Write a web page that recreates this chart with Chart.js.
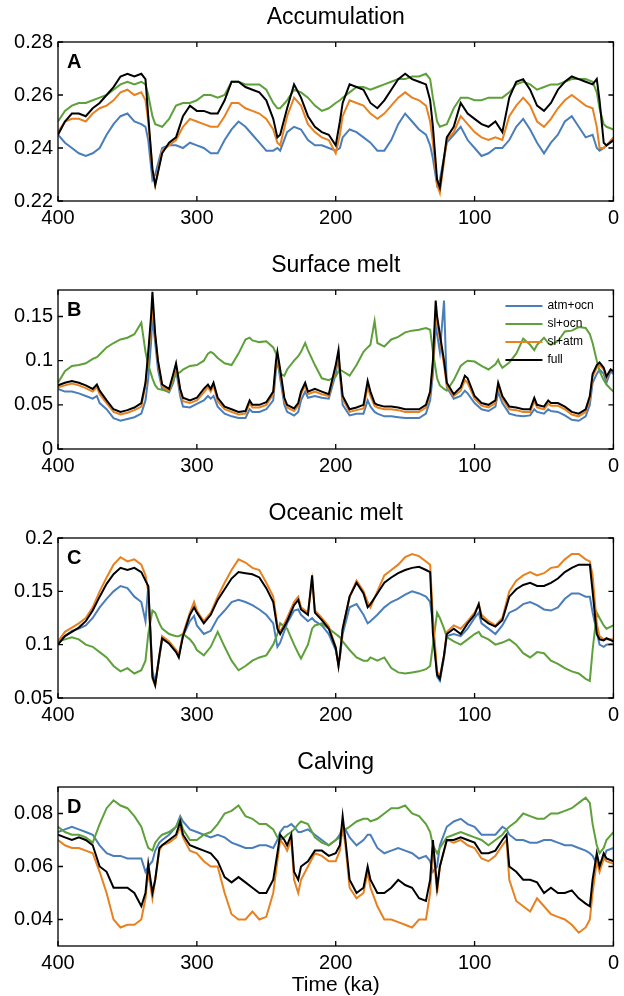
<!DOCTYPE html>
<html><head><meta charset="utf-8">
<script src="https://cdn.jsdelivr.net/npm/chart.js@4.4.0/dist/chart.umd.min.js"></script>
<style>
html,body{margin:0;padding:0;background:#fff;}
#wrap{position:relative;width:624px;height:996px;overflow:hidden;background:#fff;}
canvas{position:absolute;left:0;}
</style></head><body><div id="wrap">
<canvas id="cA" width="624" height="245" style="top:0px"></canvas>
<canvas id="cB" width="624" height="248" style="top:245px"></canvas>
<canvas id="cC" width="624" height="250" style="top:493px"></canvas>
<canvas id="cD" width="624" height="253" style="top:743px"></canvas>
</div>
<script>
// ---------- data (time in ka) ----------
const seriesLabels = ["atm+ocn", "sl+ocn", "sl+atm", "full"];
const xTicks = [400, 300, 200, 100, 0];

// Panel A: Accumulation
const kaA = [400,395,390,385,380,375,370,365,360,355,350,345,340,337,335,332,330,325,320,315,310,305,300,295,290,285,280,275,270,265,260,255,250,245,242,240,235,230,225,220,215,210,205,200,197,195,190,185,180,175,170,165,160,155,150,145,140,135,132,130,127,125,120,115,110,105,100,95,90,85,80,75,70,65,60,55,50,45,40,35,30,25,20,15,12,10,7,5,0];
const accBlue = [.245,.242,.240,.238,.237,.238,.240,.245,.249,.252, .253,.250,.249,.248,.243,.228,.230,.240,.241,.241, .240,.242,.241,.240,.238,.238,.243,.247,.250,.248, .245,.242,.239,.239,.240,.239,.246,.248,.247,.243, .241,.241,.240,.239,.240,.244,.247,.246,.244,.242, .239,.239,.243,.249,.253,.250,.247,.245,.241,.236, .226,.228,.242,.245,.248,.243,.240,.237,.238,.240, .240,.243,.248,.251,.247,.242,.238,.242,.245,.250, .252,.248,.244,.245,.240,.239,.240,.241,.243];
const accGreen = [.250,.254,.256,.257,.257,.258,.259,.260,.262,.264, .265,.264,.265,.264,.260,.252,.249,.248,.251,.256, .257,.257,.258,.260,.260,.259,.260,.265,.265,.264, .264,.264,.262,.257,.255,.255,.258,.262,.261,.259, .256,.254,.255,.257,.258,.259,.261,.263,.263,.262, .263,.264,.265,.266,.266,.267,.267,.268,.266,.259, .250,.248,.249,.255,.259,.259,.258,.258,.259,.259, .259,.261,.264,.265,.264,.262,.263,.264,.264,.265, .266,.266,.266,.265,.261,.255,.249,.248,.247];
const accOrange = [.246,.250,.251,.251,.250,.253,.255,.256,.258,.261, .262,.260,.261,.258,.250,.232,.226,.239,.241,.243, .248,.251,.250,.249,.248,.248,.252,.257,.257,.255, .254,.253,.251,.247,.242,.241,.252,.259,.256,.249, .246,.244,.243,.238,.245,.252,.258,.257,.256,.253, .251,.253,.256,.259,.261,.259,.258,.256,.250,.242, .226,.223,.243,.246,.252,.249,.246,.244,.243,.244, .243,.252,.256,.259,.256,.250,.248,.251,.255,.258, .260,.258,.256,.255,.248,.240,.240,.241,.244];
const accBlack = [.245,.250,.253,.253,.252,.255,.257,.260,.263,.267, .268,.267,.268,.266,.252,.232,.226,.238,.242,.244, .252,.256,.254,.254,.253,.253,.258,.265,.265,.263, .262,.261,.258,.251,.244,.245,.255,.264,.259,.252, .248,.246,.245,.241,.250,.257,.264,.263,.262,.257, .255,.258,.262,.266,.268,.266,.265,.264,.258,.248, .228,.225,.244,.248,.257,.253,.251,.249,.248,.250, .246,.259,.265,.266,.262,.256,.254,.257,.262,.265, .267,.266,.265,.264,.266,.258,.242,.241,.243];
const accTicks = [0.22, 0.24, 0.26, 0.28];

// Panel B: Surface melt
const kaB = [400,395,390,385,380,375,372,370,365,360, 355,350,345,340,337,335,333,332,330,328, 325,320,317,315,312,310,305,300,295,292, 290,288,285,280,275,270,265,262,260,255, 250,245,243,242,240,237,235,230,227,225, 222,220,215,210,205,200,198,197,195,190, 185,180,177,175,172,170,165,160,155,150, 145,140,135,132,130,128,127,125,122,120, 115,110,107,105,100,95,90,85,83,82, 80,75,70,65,60,57,55,50,47,45, 40,35,30,25,20,17,15,12,10,7, 5,2,0];
const smBlue = [.068,.065,.065,.063,.060,.057,.060,.052,.045,.035, .032,.034,.036,.040,.055,.080,.120,.150,.120,.090, .068,.064,.075,.090,.060,.048,.047,.051,.055,.060, .057,.060,.048,.040,.037,.035,.035,.045,.042,.042, .045,.055,.090,.100,.080,.050,.042,.038,.042,.055, .065,.058,.060,.058,.057,.085,.105,.085,.050,.038, .040,.040,.055,.048,.042,.040,.037,.037,.036,.035, .035,.035,.040,.055,.085,.140,.130,.110,.168,.070, .057,.060,.066,.063,.052,.045,.043,.048,.065,.060, .052,.040,.038,.037,.038,.045,.042,.040,.045,.043, .042,.038,.033,.032,.037,.050,.075,.085,.090,.085, .075,.088,.085];
const smGreen = [.075,.088,.094,.095,.097,.102,.104,.107,.115,.120, .124,.126,.130,.143,.110,.095,.085,.080,.072,.068, .067,.065,.078,.085,.087,.090,.094,.095,.100,.108, .110,.108,.103,.097,.095,.108,.124,.126,.123,.121, .122,.115,.108,.100,.085,.083,.090,.100,.105,.110, .120,.112,.095,.080,.078,.082,.088,.090,.088,.083, .095,.110,.115,.118,.145,.120,.116,.124,.127,.132, .134,.135,.137,.135,.110,.090,.080,.072,.068,.066, .078,.094,.098,.100,.099,.094,.090,.096,.101,.097, .092,.098,.108,.125,.118,.112,.118,.126,.120,.118, .122,.133,.134,.138,.137,.130,.120,.100,.088,.078, .073,.068,.065];
const smOrange = [.070,.072,.074,.072,.069,.065,.070,.062,.052,.042, .039,.041,.044,.048,.072,.105,.140,.160,.128,.098, .071,.066,.082,.095,.066,.054,.052,.055,.064,.070, .065,.072,.054,.045,.042,.039,.040,.052,.047,.047, .050,.062,.097,.106,.087,.055,.047,.043,.049,.062, .072,.062,.065,.062,.060,.092,.108,.088,.057,.042, .044,.046,.070,.060,.049,.047,.045,.045,.044,.042, .042,.042,.047,.062,.095,.150,.142,.125,.095,.072, .060,.066,.078,.075,.057,.049,.047,.052,.072,.066, .057,.045,.044,.042,.042,.054,.047,.045,.051,.049, .049,.045,.039,.037,.042,.056,.082,.092,.095,.090, .080,.090,.088];
const smBlack = [.072,.075,.077,.075,.072,.068,.073,.066,.055,.045, .042,.044,.047,.052,.075,.110,.150,.178,.130,.100, .073,.068,.085,.097,.068,.058,.055,.058,.068,.073, .068,.075,.058,.048,.045,.042,.043,.055,.050,.050, .053,.065,.100,.110,.090,.058,.050,.046,.052,.065, .075,.065,.068,.065,.062,.095,.112,.090,.060,.045, .047,.050,.077,.065,.052,.050,.048,.048,.047,.045, .045,.045,.050,.065,.100,.168,.150,.130,.100,.075, .062,.070,.083,.080,.060,.052,.050,.055,.075,.070, .060,.048,.047,.045,.045,.058,.050,.048,.055,.052, .052,.048,.042,.040,.045,.060,.085,.095,.098,.092, .082,.090,.088];
const smTicks = [0, 0.05, 0.1, 0.15];

// Panel C: Oceanic melt
const kaC = [400,395,390,385,380,375,370,365,360,355, 350,345,340,337,335,332,330,327,325,320, 315,313,310,305,302,300,295,290,285,280, 275,270,265,260,255,250,245,242,240,235, 230,227,225,220,217,215,210,205,200,198, 197,195,190,185,180,177,175,170,165,160, 155,150,145,140,135,132,130,127,125,122, 120,115,110,105,100,97,95,90,85,80, 75,70,65,60,55,50,45,40,35,30, 25,20,17,15,12,10,7,5,0];
const omBlue = [.103,.108,.113,.115,.118,.125,.135,.143,.150,.155, .153,.145,.140,.122,.155,.075,.065,.088,.105,.102, .095,.090,.108,.122,.127,.118,.110,.113,.125,.132, .140,.142,.140,.137,.133,.128,.120,.098,.102,.120, .132,.133,.128,.122,.125,.122,.118,.110,.095,.082, .088,.110,.135,.138,.128,.120,.122,.128,.135,.140, .143,.147,.150,.148,.145,.140,.120,.070,.066,.088, .108,.110,.108,.115,.125,.130,.120,.115,.110,.118, .130,.133,.138,.140,.137,.133,.132,.135,.143,.148, .148,.145,.145,.130,.112,.100,.098,.100,.101];
const omGreen = [.103,.105,.107,.105,.100,.098,.093,.088,.080,.075, .078,.073,.076,.085,.110,.132,.130,.120,.115,.110, .108,.108,.110,.105,.100,.095,.090,.098,.112,.098, .085,.076,.080,.085,.088,.090,.100,.110,.120,.115, .100,.092,.087,.100,.115,.118,.120,.115,.110,.108, .107,.103,.095,.088,.085,.085,.088,.085,.088,.078, .074,.073,.074,.075,.077,.080,.100,.130,.125,.115, .107,.103,.100,.105,.110,.112,.108,.105,.100,.102, .105,.100,.092,.088,.093,.092,.085,.082,.078,.075, .073,.068,.066,.095,.130,.125,.118,.115,.118];
const omOrange = [.103,.112,.116,.120,.125,.135,.150,.163,.175,.182, .178,.180,.175,.165,.150,.068,.062,.090,.108,.103, .095,.090,.110,.130,.140,.132,.122,.130,.145,.158, .170,.180,.177,.172,.170,.158,.145,.118,.112,.125, .140,.145,.135,.130,.160,.132,.125,.117,.098,.080, .090,.115,.145,.160,.150,.140,.135,.150,.165,.170, .175,.182,.185,.183,.178,.175,.125,.075,.070,.090, .112,.118,.115,.122,.130,.138,.128,.122,.118,.125, .150,.160,.165,.168,.165,.167,.172,.173,.180,.185, .185,.180,.178,.165,.120,.108,.105,.105,.105];
const omBlack = [.100,.108,.112,.116,.122,.132,.145,.157,.166,.172, .170,.172,.168,.160,.155,.070,.062,.090,.106,.101, .093,.088,.108,.128,.135,.130,.120,.128,.142,.152, .162,.168,.167,.166,.163,.153,.140,.115,.110,.122, .137,.142,.133,.128,.165,.130,.123,.115,.097,.080, .090,.115,.145,.158,.148,.135,.138,.148,.158,.163, .167,.170,.172,.173,.170,.168,.110,.072,.068,.090, .110,.115,.110,.120,.128,.138,.125,.120,.117,.123, .145,.152,.156,.158,.155,.155,.158,.162,.168,.172, .175,.175,.175,.150,.110,.105,.104,.106,.103];
const omTicks = [0.05, 0.1, 0.15, 0.2];

// Panel D: Calving
const kaD = [400,395,390,385,380,375,370,365,360,355, 350,345,340,337,335,332,330,327,325,320, 315,312,310,305,300,295,290,285,280,275, 270,265,260,255,250,245,242,240,237,235, 232,230,227,225,220,215,210,205,200,197, 195,193,190,185,180,177,175,170,165,160, 155,150,145,140,135,132,130,127,125,120, 115,110,105,100,95,90,85,80,77,75, 70,65,60,55,50,45,40,35,30,25, 20,17,15,12,10,7,5,0];
const cvBlue = [.073,.074,.075,.074,.073,.072,.068,.065,.064,.064, .063,.063,.063,.058,.060,.062,.066,.069,.070,.072, .075,.079,.077,.074,.073,.072,.071,.072,.071,.069, .068,.067,.067,.068,.068,.067,.070,.073,.075,.075, .076,.075,.073,.073,.074,.072,.070,.068,.070,.072, .075,.074,.071,.068,.070,.072,.072,.067,.065,.066, .067,.066,.065,.063,.064,.062,.058,.060,.068,.075, .077,.078,.076,.075,.072,.072,.072,.075,.074,.072, .070,.070,.069,.069,.070,.070,.069,.068,.068,.067, .066,.065,.064,.061,.060,.063,.066,.067];
const cvGreen = [.075,.073,.072,.072,.071,.069,.076,.082,.085,.083, .082,.079,.075,.070,.067,.066,.069,.071,.072,.073, .075,.078,.074,.070,.070,.072,.073,.076,.080,.081, .083,.079,.078,.076,.076,.074,.071,.070,.071,.072, .073,.074,.076,.077,.076,.071,.069,.068,.070,.071, .072,.074,.075,.077,.078,.078,.077,.078,.080,.082, .082,.083,.080,.079,.076,.073,.068,.065,.067,.071, .072,.073,.072,.071,.070,.068,.070,.072,.074,.075, .077,.080,.079,.078,.078,.080,.080,.081,.082,.084, .086,.084,.076,.068,.065,.067,.070,.073];
const cvOrange = [.070,.068,.067,.067,.066,.065,.058,.050,.040,.037, .038,.038,.040,.048,.058,.048,.055,.066,.068,.069, .071,.075,.071,.066,.065,.062,.060,.060,.050,.042, .040,.040,.043,.040,.041,.050,.062,.070,.068,.066, .070,.055,.050,.055,.060,.065,.064,.062,.062,.066, .075,.068,.052,.048,.050,.058,.052,.045,.040,.040, .039,.038,.037,.040,.040,.050,.068,.050,.060,.070, .069,.070,.068,.067,.063,.062,.064,.068,.070,.055, .047,.045,.043,.048,.045,.042,.041,.040,.038,.035, .037,.040,.050,.062,.058,.063,.062,.061];
const cvBlack = [.072,.071,.070,.071,.070,.068,.060,.058,.052,.052, .052,.050,.045,.050,.061,.050,.055,.067,.068,.070, .072,.077,.072,.068,.067,.066,.065,.062,.056,.054, .056,.054,.052,.050,.050,.055,.065,.072,.070,.068, .072,.058,.055,.060,.062,.066,.066,.064,.065,.068, .079,.070,.055,.050,.052,.060,.055,.050,.050,.052, .055,.053,.052,.048,.047,.055,.070,.052,.060,.070, .070,.071,.070,.069,.065,.065,.066,.070,.072,.060, .058,.055,.055,.054,.050,.052,.050,.050,.051,.048, .046,.045,.055,.065,.060,.065,.063,.062];
const cvTicks = [0.04, 0.06, 0.08];

// ---------- drawing ----------
const FONT = '"Liberation Sans", Arial, Helvetica, sans-serif';
Chart.defaults.font.family = FONT;
Chart.defaults.color = '#000';
const COLORS = ['#4a7ebb', '#5ea03a', '#e8811f', '#000000'];

const boxPlugin = {
  id: 'box',
  afterDatasetsDraw(chart, args, o) {
    const ctx = chart.ctx, a = chart.chartArea, x = chart.scales.x, y = chart.scales.y;
    ctx.save();
    ctx.strokeStyle = '#000';
    ctx.lineWidth = 1.3;
    ctx.strokeRect(a.left, a.top, a.right - a.left, a.bottom - a.top);
    const L = 5;
    ctx.beginPath();
    x.ticks.forEach(t => {
      const px = x.getPixelForValue(t.value);
      ctx.moveTo(px, a.bottom); ctx.lineTo(px, a.bottom - L);
      ctx.moveTo(px, a.top); ctx.lineTo(px, a.top + L);
    });
    y.ticks.forEach(t => {
      const py = y.getPixelForValue(t.value);
      ctx.moveTo(a.left, py); ctx.lineTo(a.left + L, py);
      ctx.moveTo(a.right, py); ctx.lineTo(a.right - L, py);
    });
    ctx.stroke();
    ctx.fillStyle = '#000';
    ctx.textBaseline = 'middle';
    ctx.textAlign = 'center';
    ctx.font = '23px ' + FONT;
    ctx.fillText(o.title, (a.left + a.right) / 2, a.top - 24);
    ctx.font = 'bold 20px ' + FONT;
    ctx.textAlign = 'left';
    ctx.fillText(o.letter, a.left + 9, a.top + 20);
    if (o.xlabel) {
      ctx.font = '21px ' + FONT;
      ctx.textAlign = 'center';
      ctx.fillText(o.xlabel, (a.left + a.right) / 2, a.bottom + 39);
    }
    if (o.legend) {
      ctx.font = '12px ' + FONT;
      ctx.textAlign = 'left';
      seriesLabels.forEach((lab, i) => {
        const yy = a.top + 16 + i * 18;
        ctx.strokeStyle = COLORS[i];
        ctx.lineWidth = 2;
        ctx.beginPath();
        ctx.moveTo(a.right - 108, yy); ctx.lineTo(a.right - 71, yy);
        ctx.stroke();
        ctx.fillStyle = '#000';
        ctx.fillText(lab, a.right - 66, yy);
      });
    }
    ctx.restore();
  }
};

const fmt = v => String(parseFloat(Number(v).toFixed(4)));

function makePanel(id, ka, vals, yMin, yMax, yTicks, padTop, axisH, extra) {
  const datasets = vals.map((v, i) => ({
    label: seriesLabels[i],
    data: ka.map((t, j) => ({ x: t, y: v[j] })),
    borderColor: COLORS[i],
    borderWidth: 2,
    pointRadius: 0,
    tension: 0,
    fill: false,
    order: 3 - i
  }));
  new Chart(document.getElementById(id), {
    type: 'line',
    data: { datasets },
    options: {
      responsive: false,
      animation: false,
      devicePixelRatio: 1,
      events: [],
      layout: { padding: { left: 0, right: 5, top: padTop, bottom: 0 } },
      scales: {
        x: {
          type: 'linear', reverse: true, min: 0, max: 400,
          grid: { display: false, drawTicks: false }, border: { display: false },
          ticks: { font: { size: 20 }, padding: 5, maxRotation: 0, autoSkip: false, callback: v => fmt(v) },
          afterBuildTicks: s => { s.ticks = xTicks.map(v => ({ value: v })); },
          afterFit: s => { s.height = axisH; }
        },
        y: {
          type: 'linear', min: yMin, max: yMax,
          grid: { display: false, drawTicks: false }, border: { display: false },
          ticks: { font: { size: 20 }, padding: 5, callback: v => fmt(v) },
          afterBuildTicks: s => { s.ticks = yTicks.map(v => ({ value: v })); },
          afterFit: s => { s.width = 58; }
        }
      },
      plugins: { legend: { display: false }, tooltip: { enabled: false }, box: extra }
    },
    plugins: [boxPlugin]
  });
}

makePanel('cA', kaA, [accBlue, accGreen, accOrange, accBlack], 0.22, 0.28, accTicks, 42, 44,
  { title: 'Accumulation', letter: 'A' });
makePanel('cB', kaB, [smBlue, smGreen, smOrange, smBlack], 0, 0.18, smTicks, 45, 44,
  { title: 'Surface melt', letter: 'B', legend: true });
makePanel('cC', kaC, [omBlue, omGreen, omOrange, omBlack], 0.05, 0.2, omTicks, 45, 45,
  { title: 'Oceanic melt', letter: 'C' });
makePanel('cD', kaD, [cvBlue, cvGreen, cvOrange, cvBlack], 0.03, 0.09, cvTicks, 44, 50,
  { title: 'Calving', letter: 'D', xlabel: 'Time (ka)' });
</script>
</body></html>
